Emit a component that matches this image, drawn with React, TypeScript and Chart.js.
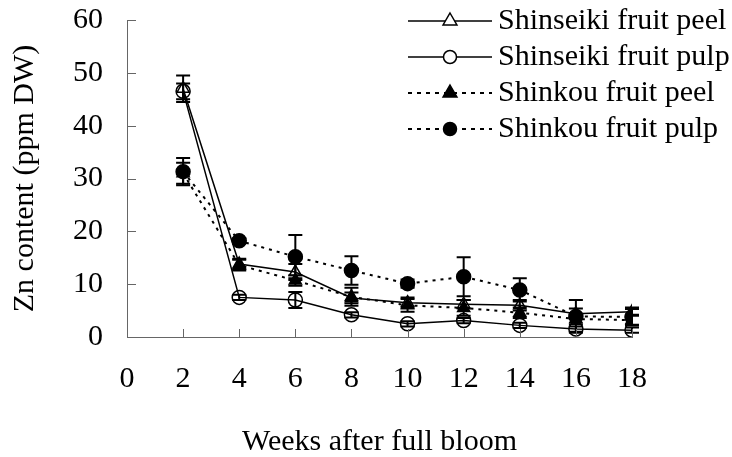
import { useEffect, useRef } from "react";
import { Chart, registerables } from "chart.js";
Chart.register(...registerables);

const weeks = [2, 4, 6, 8, 10, 12, 14, 16, 18];
const xTickValues = [0, 2, 4, 6, 8, 10, 12, 14, 16, 18];
const yTickValues = [0, 10, 20, 30, 40, 50, 60];
const seriesNames = [
  "Shinseiki fruit peel",
  "Shinseiki fruit pulp",
  "Shinkou fruit peel",
  "Shinkou fruit pulp",
];
const shinseikiPeel = [47.0, 13.8, 12.3, 7.4, 6.5, 6.2, 6.0, 4.4, 4.8];
const shinseikiPeelErr = [2.5, 1.0, 1.5, 1.0, 1.0, 0.8, 1.0, 1.0, 0.8];
const shinseikiPulp = [46.5, 7.5, 7.0, 4.2, 2.5, 3.1, 2.2, 1.5, 1.3];
const shinseikiPulpErr = [1.5, 0.5, 1.5, 0.5, 0.5, 0.5, 0.5, 0.5, 0.5];
const shinkouPeel = [31.0, 13.6, 10.7, 7.6, 6.0, 5.5, 4.6, 3.4, 3.2];
const shinkouPeelErr = [2.0, 1.0, 1.0, 1.7, 1.2, 1.5, 1.0, 1.0, 1.0];
const shinkouPulp = [31.3, 18.2, 15.2, 12.6, 10.1, 11.4, 8.9, 3.9, 3.8];
const shinkouPulpErr = [2.6, 0.5, 4.1, 2.7, 0.8, 3.7, 2.2, 3.1, 1.5];

const FONT = '"Liberation Serif", "Times New Roman", serif';
const AXIS_COLOR = "#666666";

const seriesValues = [shinseikiPeel, shinseikiPulp, shinkouPeel, shinkouPulp];
const seriesErrors = [shinseikiPeelErr, shinseikiPulpErr, shinkouPeelErr, shinkouPulpErr];
const seriesStyle = [
  { point: "triangle", filled: false, dashed: false },
  { point: "circle", filled: false, dashed: false },
  { point: "triangle", filled: true, dashed: true },
  { point: "circle", filled: true, dashed: true },
];

const errorBarPlugin = {
  id: "errorBars",
  beforeDatasetsDraw(chart: any) {
    const ctx = chart.ctx;
    const yScale = chart.scales.y;
    ctx.save();
    ctx.strokeStyle = "#000";
    ctx.lineWidth = 2;
    chart.data.datasets.forEach((ds: any, i: number) => {
      const meta = chart.getDatasetMeta(i);
      const errs = seriesErrors[i];
      meta.data.forEach((pt: any, j: number) => {
        const v = seriesValues[i][j];
        const e = errs[j];
        const x = pt.x;
        const yTop = yScale.getPixelForValue(v + e);
        const yBot = yScale.getPixelForValue(v - e);
        ctx.beginPath();
        ctx.moveTo(x, yTop);
        ctx.lineTo(x, yBot);
        ctx.moveTo(x - 7, yTop);
        ctx.lineTo(x + 7, yTop);
        ctx.moveTo(x - 7, yBot);
        ctx.lineTo(x + 7, yBot);
        ctx.stroke();
      });
    });
    ctx.restore();
  },
};

const ticksAndLegendPlugin = {
  id: "ticksLegend",
  afterDraw(chart: any) {
    const ctx = chart.ctx;
    const xs = chart.scales.x;
    const ys = chart.scales.y;
    const area = chart.chartArea;
    ctx.save();
    ctx.strokeStyle = AXIS_COLOR;
    ctx.lineWidth = 1;
    ctx.beginPath();
    xTickValues.forEach((v) => {
      if (v === 0) return;
      const px = Math.round(xs.getPixelForValue(v)) + 0.5;
      ctx.moveTo(px, area.bottom);
      ctx.lineTo(px, area.bottom - 8);
    });
    yTickValues.forEach((v) => {
      if (v === 0) return;
      const py = Math.round(ys.getPixelForValue(v)) + 0.5;
      ctx.moveTo(area.left, py);
      ctx.lineTo(area.left + 9, py);
    });
    ctx.stroke();

    // legend
    const lx1 = 408;
    const lx2 = 492;
    const mx = 450;
    const tx = 498;
    seriesNames.forEach((name, i) => {
      const y = 21 + i * 36;
      const st = seriesStyle[i];
      ctx.strokeStyle = "#000";
      ctx.lineWidth = st.dashed ? 2 : 1.5;
      ctx.setLineDash(st.dashed ? [4, 5] : []);
      ctx.beginPath();
      ctx.moveTo(lx1, y);
      ctx.lineTo(lx2, y);
      ctx.stroke();
      ctx.setLineDash([]);
      ctx.fillStyle = st.filled ? "#000" : "#fff";
      ctx.lineWidth = 1.5;
      ctx.beginPath();
      if (st.point === "circle") {
        ctx.arc(mx, y, 6.5, 0, Math.PI * 2);
      } else {
        const r = 8;
        ctx.moveTo(mx, y - r);
        ctx.lineTo(mx + r * 0.866, y + r * 0.5);
        ctx.lineTo(mx - r * 0.866, y + r * 0.5);
        ctx.closePath();
      }
      ctx.fill();
      ctx.stroke();
      ctx.fillStyle = "#000";
      ctx.font = `30px ${FONT}`;
      ctx.textAlign = "left";
      ctx.textBaseline = "middle";
      ctx.fillText(name, tx, y);
    });
    ctx.restore();
  },
};

export default function App() {
  const canvasRef = useRef<HTMLCanvasElement | null>(null);
  useEffect(() => {
    if (!canvasRef.current) return;
    const datasets = seriesNames.map((name, i) => {
      const st = seriesStyle[i];
      return {
        label: name,
        data: weeks.map((w, j) => ({ x: w, y: seriesValues[i][j] })),
        borderColor: "#000",
        borderWidth: st.dashed ? 2 : 1.5,
        borderDash: st.dashed ? [3, 5] : [],
        pointStyle: st.point,
        pointRadius: 7,
        pointBorderWidth: 1.5,
        pointBorderColor: "#000",
        pointBackgroundColor: st.filled ? "#000" : "rgba(0,0,0,0)",
        fill: false,
        tension: 0,
        order: 3 - i,
      };
    });
    const chart = new Chart(canvasRef.current, {
      type: "line",
      data: { datasets },
      options: {
        animation: false,
        responsive: false,
        maintainAspectRatio: false,
        layout: { padding: { top: 20, right: 100, left: 0, bottom: 0 } },
        plugins: {
          legend: { display: false },
          tooltip: { enabled: false },
        },
        scales: {
          x: {
            type: "linear",
            min: 0,
            max: 18,
            afterBuildTicks: (s: any) => {
              s.ticks = xTickValues.map((v) => ({ value: v }));
            },
            afterFit: (s: any) => {
              s.height = 120;
              s.paddingLeft = 0;
              s.paddingRight = 0;
            },
            grid: { display: false, drawTicks: false },
            border: { display: true, color: AXIS_COLOR, width: 1 },
            ticks: {
              color: "#000",
              font: { family: FONT, size: 30 },
              padding: 24,
              maxRotation: 0,
              autoSkip: false,
            },
            title: {
              display: true,
              text: "Weeks after full bloom",
              color: "#000",
              font: { family: FONT, size: 30 },
              padding: { top: 0, bottom: -3 },
            },
          },
          y: {
            type: "linear",
            min: 0,
            max: 60,
            afterBuildTicks: (s: any) => {
              s.ticks = yTickValues.map((v) => ({ value: v }));
            },
            afterFit: (s: any) => {
              s.width = 127;
              s.paddingTop = 0;
              s.paddingBottom = 0;
            },
            grid: { display: false, drawTicks: false },
            border: { display: true, color: AXIS_COLOR, width: 1 },
            ticks: {
              color: "#000",
              font: { family: FONT, size: 30 },
              padding: 24,
            },
            title: {
              display: true,
              text: "Zn content (ppm DW)",
              color: "#000",
              font: { family: FONT, size: 30 },
              padding: { top: 7, bottom: 0 },
            },
          },
        },
      },
      plugins: [errorBarPlugin, ticksAndLegendPlugin],
    } as any);
    return () => chart.destroy();
  }, []);
  return (
    <div style={{ position: "fixed", left: 0, top: 0, width: 732, height: 457, background: "#fff" }}>
      <canvas ref={canvasRef} width={732} height={457} style={{ width: 732, height: 457 }} />
    </div>
  );
}
